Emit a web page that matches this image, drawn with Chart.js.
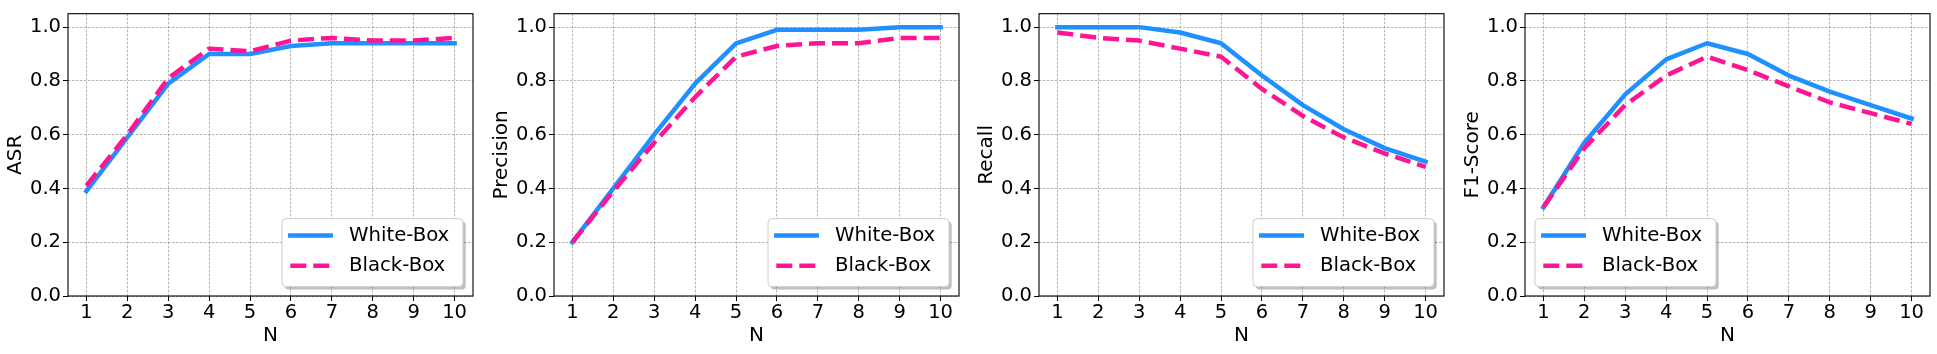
<!DOCTYPE html>
<html><head><meta charset="utf-8">
<script src="https://cdn.jsdelivr.net/npm/chart.js@4.4.0/dist/chart.umd.min.js"></script>
<style>
html,body{margin:0;padding:0;background:#fff;overflow:hidden;width:1937px;height:354px;}
canvas{position:absolute;top:0;}
</style></head><body>
<canvas id="c0" width="480" height="354" style="left:0px"></canvas>
<canvas id="c1" width="480" height="354" style="left:486px"></canvas>
<canvas id="c2" width="480" height="354" style="left:971px"></canvas>
<canvas id="c3" width="480" height="354" style="left:1457px"></canvas>
<script>
// ---- data ----
const nValues = [1, 2, 3, 4, 5, 6, 7, 8, 9, 10];
const yTickValues = [0, 0.2, 0.4, 0.6, 0.8, 1.0];
const seriesNames = ['White-Box', 'Black-Box'];
const metricNames = ['ASR', 'Precision', 'Recall', 'F1-Score'];
const xAxisTitle = 'N';

const asrWhite = [0.39, 0.59, 0.79, 0.90, 0.90, 0.93, 0.94, 0.94, 0.94, 0.94];
const asrBlack = [0.41, 0.60, 0.81, 0.92, 0.91, 0.95, 0.96, 0.95, 0.95, 0.96];
const precisionWhite = [0.20, 0.40, 0.60, 0.79, 0.94, 0.99, 0.99, 0.99, 1.00, 1.00];
const precisionBlack = [0.20, 0.39, 0.57, 0.74, 0.89, 0.93, 0.94, 0.94, 0.96, 0.96];
const recallWhite = [1.00, 1.00, 1.00, 0.98, 0.94, 0.82, 0.71, 0.62, 0.55, 0.50];
const recallBlack = [0.98, 0.96, 0.95, 0.92, 0.89, 0.77, 0.67, 0.59, 0.53, 0.48];
const f1White = [0.33, 0.57, 0.75, 0.88, 0.94, 0.90, 0.82, 0.76, 0.71, 0.66];
const f1Black = [0.33, 0.55, 0.71, 0.82, 0.89, 0.84, 0.78, 0.72, 0.68, 0.64];

const panelWhite = [asrWhite, precisionWhite, recallWhite, f1White];
const panelBlack = [asrBlack, precisionBlack, recallBlack, f1Black];
const legendSides = ['right', 'right', 'right', 'left'];

// ---- style ----
Chart.defaults.font.family = '"DejaVu Sans", sans-serif';
Chart.defaults.color = '#000';
const FONT = { family: '"DejaVu Sans", sans-serif', size: 19.5 };
const TITLE_FONT = { family: '"DejaVu Sans", sans-serif', size: 20 };

function roundRect(ctx, x, y, w, h, r) {
  ctx.beginPath();
  ctx.moveTo(x + r, y);
  ctx.lineTo(x + w - r, y);
  ctx.arcTo(x + w, y, x + w, y + r, r);
  ctx.lineTo(x + w, y + h - r);
  ctx.arcTo(x + w, y + h, x + w - r, y + h, r);
  ctx.lineTo(x + r, y + h);
  ctx.arcTo(x, y + h, x, y + h - r, r);
  ctx.lineTo(x, y + r);
  ctx.arcTo(x, y, x + r, y, r);
  ctx.closePath();
}

const frameLegendPlugin = {
  id: 'frameLegend',
  afterDraw(chart, args, opts) {
    const { ctx, chartArea: a } = chart;
    ctx.save();
    ctx.setLineDash([]);
    ctx.strokeStyle = '#000';
    ctx.lineWidth = 1.1;
    ctx.strokeRect(a.left, a.top, a.right - a.left, a.bottom - a.top);

    const w = 181, h = 68, gap = 10, gapB = 9.3;
    const x0 = opts.side === 'left' ? a.left + gap : a.right - gap - w;
    const y0 = a.bottom - gapB - h;
    roundRect(ctx, x0 + 2.7, y0 + 2.7, w, h, 4);
    ctx.fillStyle = 'rgba(0,0,0,0.25)';
    ctx.fill();
    roundRect(ctx, x0, y0, w, h, 4);
    ctx.fillStyle = '#fff';
    ctx.fill();
    ctx.strokeStyle = '#cccccc';
    ctx.lineWidth = 1;
    ctx.stroke();

    chart.data.datasets.forEach((ds, i) => {
      const y = y0 + 16.7 + i * 30.3;
      ctx.beginPath();
      ctx.setLineDash(ds.borderDash || []);
      ctx.lineCap = ds.borderCapStyle || 'butt';
      ctx.lineWidth = ds.borderWidth;
      ctx.strokeStyle = ds.borderColor;
      ctx.moveTo(x0 + 8.3, y);
      ctx.lineTo(x0 + 48.7, y);
      ctx.stroke();
      ctx.setLineDash([]);
      ctx.fillStyle = '#000';
      ctx.font = '19.7px "DejaVu Sans"';
      ctx.textBaseline = 'middle';
      ctx.textAlign = 'left';
      ctx.fillText(ds.label, x0 + 67, y);
    });
    ctx.restore();
  }
};

function toPoints(values) {
  return nValues.map((n, i) => ({ x: n, y: values[i] }));
}

metricNames.forEach((metric, p) => {
  new Chart(document.getElementById('c' + p), {
    type: 'line',
    data: {
      datasets: [
        {
          label: seriesNames[0],
          data: toPoints(panelWhite[p]),
          borderColor: '#1E90FF',
          borderWidth: 4.5,
          borderCapStyle: 'square',
          borderJoinStyle: 'round',
          pointRadius: 0,
          fill: false,
          tension: 0,
          order: 1
        },
        {
          label: seriesNames[1],
          data: toPoints(panelBlack[p]),
          borderColor: '#FF1493',
          borderWidth: 4.5,
          borderDash: [16, 7],
          borderCapStyle: 'butt',
          borderJoinStyle: 'round',
          pointRadius: 0,
          fill: false,
          tension: 0,
          order: 0
        }
      ]
    },
    options: {
      responsive: false,
      animation: false,
      devicePixelRatio: 1,
      layout: { padding: { left: 0, right: 7, top: 7, bottom: 0 } },
      plugins: {
        legend: { display: false },
        tooltip: { enabled: false },
        frameLegend: { side: legendSides[p] }
      },
      scales: {
        x: {
          type: 'linear',
          min: 0.55,
          max: 10.45,
          afterBuildTicks: (axis) => { axis.ticks = nValues.map(v => ({ value: v })); },
          afterFit: (axis) => { axis.height = 58; },
          ticks: {
            font: FONT, color: '#000', padding: 0, autoSkip: false, maxRotation: 0,
            callback: (v) => String(v)
          },
          grid: {
            color: 'rgba(128,128,128,0.75)', lineWidth: 0.8,
            drawTicks: true, tickLength: 5, tickColor: '#000', tickWidth: 1, tickBorderDash: []
          },
          border: { display: false, dash: [2.5, 1.5] },
          title: { display: true, text: xAxisTitle, font: TITLE_FONT, color: '#000', padding: { top: 0, bottom: 6.5 } }
        },
        y: {
          type: 'linear',
          min: 0,
          max: 1.05,
          afterBuildTicks: (axis) => { axis.ticks = yTickValues.map(v => ({ value: v })); },
          afterFit: (axis) => { axis.width = 68; },
          ticks: {
            font: FONT, color: '#000', padding: 2,
            callback: (v) => Number(v).toFixed(1)
          },
          grid: {
            color: 'rgba(128,128,128,0.75)', lineWidth: 0.8,
            drawTicks: true, tickLength: 5, tickColor: '#000', tickWidth: 1, tickBorderDash: []
          },
          border: { display: false, dash: [2.5, 1.5] },
          title: { display: true, text: metric, font: TITLE_FONT, color: '#000', padding: { top: 4, bottom: 0 } }
        }
      }
    },
    plugins: [frameLegendPlugin]
  });
});
</script>
</body></html>
